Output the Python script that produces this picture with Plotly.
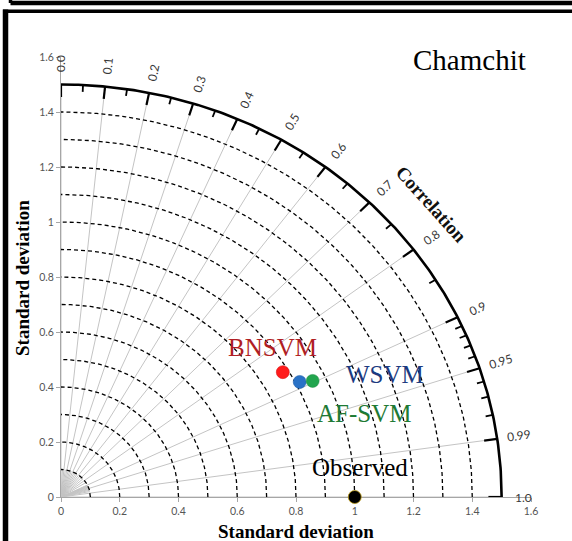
import numpy as np
import plotly.graph_objects as go

# ---------------- data ----------------
models = ["BNSVM", "WSVM", "AF-SVM", "Observed"]
std_dev = [0.881, 0.914, 0.955, 1.0]
correlation = [0.857, 0.889, 0.897, 1.0]
marker_colors = ["#FF1B1B", "#2A72C6", "#22A54E", "#000000"]
label_colors = ["#B01E24", "#1B3A80", "#1E7A34", "#000000"]

corr_major = [0.0, 0.1, 0.2, 0.3, 0.4, 0.5, 0.6, 0.7, 0.8, 0.9, 0.95, 0.99, 1.0]
corr_major_labels = ["0.0", "0.1", "0.2", "0.3", "0.4", "0.5", "0.6", "0.7",
                     "0.8", "0.9", "0.95", "0.99", "1.0"]
corr_minor = [0.05, 0.15, 0.25, 0.35, 0.45, 0.55, 0.65, 0.75, 0.85,
              0.91, 0.92, 0.93, 0.94, 0.96, 0.97, 0.98]
std_circles = [0.1, 0.2, 0.3, 0.4, 0.5, 0.6, 0.7, 0.8, 0.9, 1.0, 1.1, 1.2, 1.3, 1.4]
std_max = 1.5
axis_ticks = [0, 0.2, 0.4, 0.6, 0.8, 1.0, 1.2, 1.4, 1.6]
axis_tick_labels = ["0", "0.2", "0.4", "0.6", "0.8", "1", "1.2", "1.4", "1.6"]

# ---------------- layout constants ----------------
W, H = 572, 541
ML, MR, MT, MB = 61, 41, 57, 44
PW, PH = W - ML - MR, H - MT - MB
PX_X = PW / 1.6
PX_Y = PH / 1.6

fig = go.Figure()

# radial correlation lines (major, full length)
lx, ly = [], []
for c in corr_major:
    th = np.arccos(c)
    lx += [0, std_max * np.cos(th), None]
    ly += [0, std_max * np.sin(th), None]
fig.add_trace(go.Scatter(x=lx, y=ly, mode="lines",
                         line=dict(color="#C4C4C4", width=1), hoverinfo="skip"))
# short minor lines near origin
lx, ly = [], []
for c in corr_minor:
    th = np.arccos(c)
    lx += [0, 0.1 * np.cos(th), None]
    ly += [0, 0.1 * np.sin(th), None]
fig.add_trace(go.Scatter(x=lx, y=ly, mode="lines",
                         line=dict(color="#C4C4C4", width=1), hoverinfo="skip"))

# dashed std-dev arcs
t = np.linspace(0, np.pi / 2, 200)
ax_, ay_ = [], []
for r in std_circles:
    ax_ += list(r * np.cos(t)) + [None]
    ay_ += list(r * np.sin(t)) + [None]
fig.add_trace(go.Scatter(x=ax_, y=ay_, mode="lines",
                         line=dict(color="black", width=1.3, dash="4px,3px"),
                         hoverinfo="skip"))

# outer arc
fig.add_trace(go.Scatter(x=std_max * np.cos(t), y=std_max * np.sin(t), mode="lines",
                         line=dict(color="black", width=2.6), hoverinfo="skip"))

# ticks on the outer arc
tx, ty = [], []
for c in corr_major:
    th = np.arccos(c)
    tx += [std_max * np.cos(th), (std_max - 0.045) * np.cos(th), None]
    ty += [std_max * np.sin(th), (std_max - 0.045) * np.sin(th), None]
fig.add_trace(go.Scatter(x=tx, y=ty, mode="lines", cliponaxis=False,
                         line=dict(color="black", width=2.2), hoverinfo="skip"))
tx, ty = [], []
for c in corr_minor:
    th = np.arccos(c)
    tx += [std_max * np.cos(th), (std_max - 0.025) * np.cos(th), None]
    ty += [std_max * np.sin(th), (std_max - 0.025) * np.sin(th), None]
fig.add_trace(go.Scatter(x=tx, y=ty, mode="lines",
                         line=dict(color="black", width=1.8), hoverinfo="skip"))

# model points
px_ = [s * c for s, c in zip(std_dev, correlation)]
py_ = [s * np.sin(np.arccos(c)) for s, c in zip(std_dev, correlation)]
fig.add_trace(go.Scatter(
    x=px_, y=py_, mode="markers", cliponaxis=False,
    marker=dict(size=13, color=marker_colors,
                line=dict(width=[0.5, 0.5, 0.5, 0.8],
                          color=["#D01010", "#1A5AA8", "#1C8A40", "#B8960E"])),
    hoverinfo="skip"))

annotations = []
# correlation labels
for c, lab in zip(corr_major, corr_major_labels):
    th = np.arccos(c)
    r = 1.575
    vis = np.degrees(np.arctan2(np.sin(th) * PX_Y, np.cos(th) * PX_X))
    annotations.append(dict(x=r * np.cos(th), y=r * np.sin(th), xref="x", yref="y",
                            text=lab, showarrow=False, textangle=-vis,
                            font=dict(family="Lato", size=12, color="#383838"),
                            xanchor="center", yanchor="middle"))

# model text labels
label_pos = [(0.721, 0.545), (1.104, 0.444), (1.031, 0.304), (1.017, 0.107)]
for name, col, (x, y) in zip(models, label_colors, label_pos):
    annotations.append(dict(x=x, y=y, xref="x", yref="y", text=name, showarrow=False,
                            font=dict(family="Liberation Serif", size=25, color=col),
                            xanchor="center", yanchor="middle"))

# Correlation title
annotations.append(dict(x=1.262, y=1.065, xref="x", yref="y", text="<b>Correlation</b>",
                        showarrow=False, textangle=48, xanchor="center", yanchor="middle",
                        font=dict(family="Liberation Serif", size=19, color="#111111")))
# Station title
annotations.append(dict(x=(469 - ML) / PW, y=(H - MB - 60) / PH, xref="paper", yref="paper",
                        text="Chamchit", showarrow=False, xanchor="center", yanchor="middle",
                        font=dict(family="Liberation Serif", size=29, color="black")))
# axis titles
annotations.append(dict(x=0.5, y=(H - MB - 531) / PH, xref="paper", yref="paper",
                        text="<b>Standard deviation</b>", showarrow=False,
                        xanchor="center", yanchor="middle",
                        font=dict(family="Liberation Serif", size=19, color="black")))
annotations.append(dict(x=(22 - ML) / PW, y=(H - MB - 278) / PH, xref="paper", yref="paper",
                        text="<b>Standard deviation</b>", showarrow=False, textangle=-90,
                        xanchor="center", yanchor="middle",
                        font=dict(family="Liberation Serif", size=19, color="black")))


def pxx(p):
    return (p - ML) / PW


def pxy(p):
    return (H - MB - p) / PH


shapes = [
    # previous panel bottom edge + left edge
    dict(type="line", xref="paper", yref="paper", x0=pxx(10.5), x1=pxx(580),
         y0=pxy(3), y1=pxy(3), line=dict(color="black", width=4.5)),
    dict(type="line", xref="paper", yref="paper", x0=pxx(10.5), x1=pxx(10.5),
         y0=pxy(-5), y1=pxy(3), line=dict(color="black", width=3.5)),
    # current panel top + left edges
    dict(type="line", xref="paper", yref="paper", x0=pxx(3), x1=pxx(580),
         y0=pxy(11.3), y1=pxy(11.3), line=dict(color="black", width=3.6)),
    dict(type="line", xref="paper", yref="paper", x0=pxx(5.5), x1=pxx(5.5),
         y0=pxy(9.5), y1=pxy(560), line=dict(color="black", width=5.5)),
]

axis_common = dict(range=[0, 1.6], tickvals=axis_ticks, ticktext=axis_tick_labels,
                   showgrid=False, zeroline=False, showline=True, linecolor="#A6A6A6",
                   linewidth=1.2, ticks="outside", ticklen=4, tickcolor="#A6A6A6",
                   tickfont=dict(family="Lato", size=10.5, color="#555555"),
                   fixedrange=True, layer="below traces")

fig.update_layout(
    width=W, height=H,
    margin=dict(l=ML, r=MR, t=MT, b=MB, pad=0),
    plot_bgcolor="white", paper_bgcolor="white",
    showlegend=False,
    xaxis=axis_common,
    yaxis=axis_common,
    annotations=annotations,
    shapes=shapes,
)

fig.write_html("out.html", config={"displayModeBar": False},
               post_script="document.body.style.margin='0';document.body.style.overflow='hidden';")
